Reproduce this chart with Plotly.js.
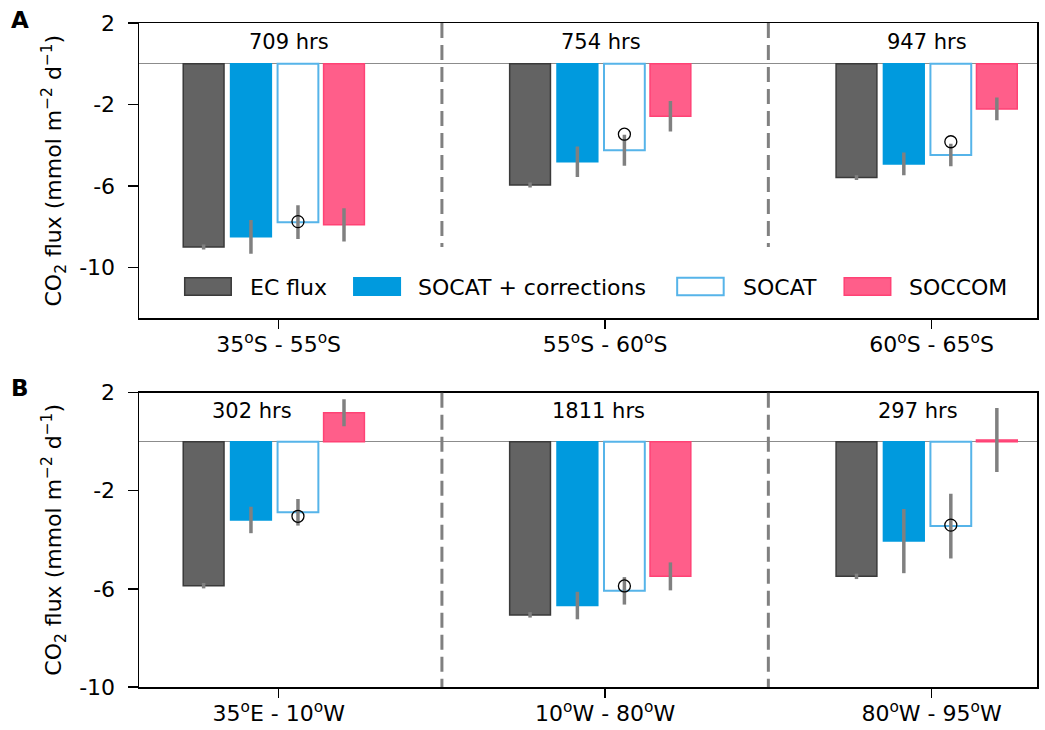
<!DOCTYPE html>
<html>
<head>
<meta charset="utf-8">
<script src="https://cdn.plot.ly/plotly-3.0.1.min.js"></script>
<style>html,body{margin:0;padding:0;background:#fff;} #chart{width:1045px;height:730px;}</style>
</head>
<body>
<div id="chart"></div>
<script>
// ---------------- data ----------------
const groupIndex = [0, 1, 2];
const regionsA = ['35<sup>o</sup>S - 55<sup>o</sup>S', '55<sup>o</sup>S - 60<sup>o</sup>S', '60<sup>o</sup>S - 65<sup>o</sup>S'];
const regionsB = ['35<sup>o</sup>E - 10<sup>o</sup>W', '10<sup>o</sup>W - 80<sup>o</sup>W', '80<sup>o</sup>W - 95<sup>o</sup>W'];
const hoursA = ['709 hrs', '754 hrs', '947 hrs'];
const hoursB = ['302 hrs', '1811 hrs', '297 hrs'];
const seriesNames = ['EC flux', 'SOCAT + corrections', 'SOCAT', 'SOCCOM'];
const yTickValsA = [2, -2, -6, -10];
const yTickTextA = ['2', '-2', '-6', '-10'];
const yTickValsB = [2, -2, -6, -10];
const yTickTextB = ['2', '-2', '-6', '-10'];

// Panel A (latitude bands)
const ecA = [-9.0, -5.95, -5.59];
const ecErrA = [0.12, 0.12, 0.12];
const socatCorrA = [-8.50, -4.81, -4.92];
const socatCorrErrA = [0.83, 0.75, 0.56];
const socatA = [-7.78, -4.25, -4.48];
const socatErrA = [0.83, 0.76, 0.55];
const socatPointA = [-7.75, -3.46, -3.83];
const soccomA = [-7.91, -2.58, -2.22];
const soccomErrA = [0.82, 0.75, 0.56];

// Panel B (longitude bands)
const ecB = [-5.87, -7.06, -5.49];
const ecErrB = [0.11, 0.11, 0.11];
const socatCorrB = [-3.19, -6.68, -4.05];
const socatCorrErrB = [0.54, 0.56, 1.31];
const socatB = [-2.88, -6.08, -3.44];
const socatErrB = [0.54, 0.56, 1.32];
const socatPointB = [-3.04, -5.88, -3.40];
const soccomB = [1.18, -5.49, 0.07];
const soccomErrB = [0.55, 0.57, 1.30];

// ---------------- styles ----------------
const FONT = 'DejaVu Sans, Liberation Sans, sans-serif';
const barOffsets = [-0.230, -0.085, 0.059, 0.200];
const barWidth = 0.125;
const styles = [
  {fill: '#636363', line: '#3a3a3a', lw: 1.5},
  {fill: '#009ADE', line: '#009ADE', lw: 1.5},
  {fill: '#ffffff', line: '#56B4E9', lw: 2},
  {fill: '#FF5E8A', line: '#FF4275', lw: 1.5}
];
const errColor = '#808080';

function barTrace(vals, errs, si, xa, ya) {
  return {
    type: 'bar',
    x: groupIndex.map(g => g + barOffsets[si]),
    y: vals,
    width: barWidth,
    name: seriesNames[si],
    showlegend: false,
    xaxis: xa, yaxis: ya,
    marker: {color: styles[si].fill, line: {color: styles[si].line, width: styles[si].lw}},
    error_y: {type: 'data', array: errs, visible: true, color: errColor, thickness: 3.5, width: 0},
    hoverinfo: 'y+name'
  };
}
function pointTrace(vals, xa, ya) {
  return {
    type: 'scatter', mode: 'markers',
    x: groupIndex.map(g => g + barOffsets[2]),
    y: vals, xaxis: xa, yaxis: ya, showlegend: false, name: 'SOCAT',
    marker: {symbol: 'circle-open', size: 12, color: '#000', line: {width: 1.3, color: '#000'}},
    cliponaxis: false
  };
}

const data = [
  barTrace(ecA, ecErrA, 0, 'x', 'y'),
  barTrace(socatCorrA, socatCorrErrA, 1, 'x', 'y'),
  barTrace(socatA, socatErrA, 2, 'x', 'y'),
  barTrace(soccomA, soccomErrA, 3, 'x', 'y'),
  pointTrace(socatPointA, 'x', 'y'),
  barTrace(ecB, ecErrB, 0, 'x2', 'y2'),
  barTrace(socatCorrB, socatCorrErrB, 1, 'x2', 'y2'),
  barTrace(socatB, socatErrB, 2, 'x2', 'y2'),
  barTrace(soccomB, soccomErrB, 3, 'x2', 'y2'),
  pointTrace(socatPointB, 'x2', 'y2')
];

const yTitle = 'CO<sub>2</sub> flux (mmol m<sup>\u22122</sup> d<sup>\u22121</sup>)';
function xAxis(anchor, ticktext) {
  return {
    anchor: anchor, domain: [0, 1], range: [-0.428, 2.323],
    tickmode: 'array', tickvals: groupIndex, ticktext: ticktext,
    ticks: 'outside', ticklen: 9, tickwidth: 1.3, tickcolor: '#000',
    showline: true, linecolor: '#000', linewidth: 1.5, mirror: true,
    showgrid: false, zeroline: false,
    tickfont: {family: FONT, size: 22, color: '#000'}, ticklabelstandoff: -3
  };
}
function yAxis(anchor, domain, range, tv, tt) {
  return {
    anchor: anchor, domain: domain, range: range,
    tickmode: 'array', tickvals: tv, ticktext: tt,
    ticks: 'outside', ticklen: 10, tickwidth: 1.3, tickcolor: '#000',
    showline: true, linecolor: '#000', linewidth: 1.5, mirror: true,
    showgrid: false, zeroline: true, zerolinecolor: '#8c8c8c', zerolinewidth: 1.3,
    tickfont: {family: FONT, size: 22, color: '#000'}, ticklabelstandoff: 8,
    title: {text: yTitle, font: {family: FONT, size: 22, color: '#000'}, standoff: 11}
  };
}

const shapes = [];
[0.5, 1.5].forEach(xv => {
  shapes.push({type: 'line', xref: 'x', yref: 'y', x0: xv, x1: xv, y0: 2, y1: -9.0,
    line: {color: '#808080', width: 3, dash: '15px,7px'}});
  shapes.push({type: 'line', xref: 'x2', yref: 'y2 domain', x0: xv, x1: xv, y0: 1, y1: 0,
    line: {color: '#808080', width: 3, dash: '15px,7px'}});
});

const annotations = [];
const hourShiftA = [10, -4, -5];
const hourShiftB = [-27, -7, -14];
groupIndex.forEach((g, i) => {
  annotations.push({xref: 'x', yref: 'y domain', x: g, y: 0.936, xshift: hourShiftA[i], text: hoursA[i],
    showarrow: false, xanchor: 'center', yanchor: 'middle', font: {family: FONT, size: 21, color: '#000'}});
  annotations.push({xref: 'x2', yref: 'y2 domain', x: g, y: 0.936, xshift: hourShiftB[i], text: hoursB[i],
    showarrow: false, xanchor: 'center', yanchor: 'middle', font: {family: FONT, size: 21, color: '#000'}});
});
// panel letters
annotations.push({xref: 'paper', yref: 'paper', x: -0.132, y: 1.004, text: '<b>A</b>', showarrow: false,
  xanchor: 'center', yanchor: 'middle', font: {family: FONT, size: 23, color: '#000'}});
annotations.push({xref: 'paper', yref: 'paper', x: -0.132, y: 0.451, text: '<b>B</b>', showarrow: false,
  xanchor: 'center', yanchor: 'middle', font: {family: FONT, size: 23, color: '#000'}});

// custom legend inside panel A (wide matplotlib-style patches)
const legBoxX = [0.0509, 0.2392, 0.5993, 0.7853];
const legTextX = [0.1225, 0.3097, 0.6711, 0.8566];
seriesNames.forEach((nm, i) => {
  shapes.push({type: 'rect', xref: 'x domain', yref: 'y domain', x0: legBoxX[i], x1: legBoxX[i] + 0.0518,
    y0: 0.0778, y1: 0.1373, fillcolor: styles[i].fill, line: {color: styles[i].line, width: styles[i].lw}, layer: 'above'});
  annotations.push({xref: 'x domain', yref: 'y domain', x: legTextX[i], y: 0.1059, text: nm, showarrow: false,
    xanchor: 'left', yanchor: 'middle', borderpad: 0, font: {family: FONT, size: 22, color: '#000'}});
});

const layout = {
  width: 1045, height: 730,
  margin: {l: 139.3, r: 8, t: 22.7, b: 42.7},
  paper_bgcolor: '#fff', plot_bgcolor: '#fff',
  barmode: 'overlay', showlegend: false,
  font: {family: FONT, size: 22, color: '#000'},
  xaxis: xAxis('y', regionsA),
  yaxis: yAxis('x', [0.5552, 1], [-12.5, 2], yTickValsA, yTickTextA),
  xaxis2: xAxis('y2', regionsB),
  yaxis2: yAxis('x2', [0, 0.4433], [-10, 2], yTickValsB, yTickTextB),
  shapes: shapes, annotations: annotations
};

Plotly.newPlot('chart', data, layout, {displayModeBar: false, staticPlot: true});
</script>
</body>
</html>
